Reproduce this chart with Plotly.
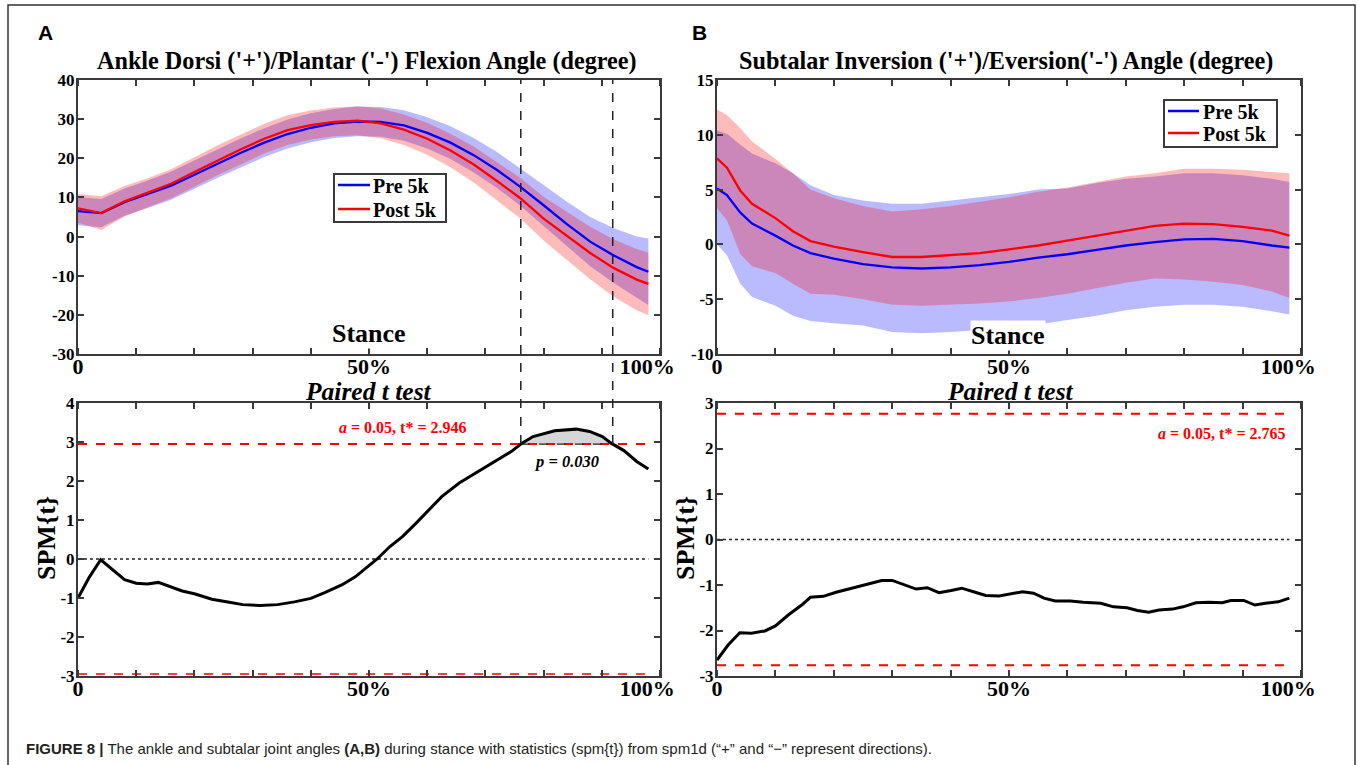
import numpy as np
import plotly.graph_objects as go

W, H = 1358, 765

# ---------------- data: panel A (ankle) ----------------
a_x = [0, 4, 8, 12, 16, 20, 24, 28, 32, 36, 40, 44, 48, 52, 56, 60, 64, 68, 72, 76, 80, 84, 88, 92, 96, 98]
a_pre_mean = [6.5, 6.0, 8.8, 10.8, 13.0, 15.8, 18.7, 21.4, 24.0, 26.2, 27.8, 28.9, 29.4, 29.3, 28.4, 26.5,
              24.0, 20.8, 17.0, 12.7, 8.0, 3.2, -1.3, -4.8, -7.8, -9.0]
a_post_mean = [7.2, 6.0, 9.0, 11.2, 13.5, 16.5, 19.5, 22.3, 25.0, 27.2, 28.5, 29.3, 29.6, 28.9, 27.3, 25.0,
               22.0, 18.4, 14.2, 9.8, 4.6, 0.2, -4.2, -8.0, -11.0, -12.1]
a_pre_sd = [3.6, 3.6, 3.5, 3.5, 3.6, 3.6, 3.7, 3.7, 3.7, 3.7, 3.7, 3.7, 3.8, 3.8, 3.9, 4.0,
            4.2, 4.4, 4.6, 4.8, 5.2, 5.7, 6.3, 7.0, 7.8, 8.5]
a_post_sd = [3.7, 4.3, 3.9, 3.7, 3.7, 3.8, 3.8, 3.8, 3.8, 3.8, 3.7, 3.7, 3.7, 3.8, 3.9, 4.1,
             4.3, 4.6, 4.9, 5.2, 5.6, 6.1, 6.7, 7.3, 7.8, 8.0]

spmA_x = [0, 2, 3.9, 6, 8, 10, 11.9, 13.8, 15.6, 17.9, 20, 23, 26, 28.3, 31.3, 34.3, 37.2, 40, 42.4, 45.4,
          47.7, 49.9, 51.4, 53.6, 55.8, 58.1, 60.3, 62.5, 65.5, 68.5, 71.5, 74.5, 76.2, 78.2, 81.9, 85.6,
          87.9, 90.1, 91.6, 93.8, 96, 98]
spmA_t = [-1.0, -0.45, -0.02, -0.28, -0.53, -0.62, -0.64, -0.60, -0.69, -0.82, -0.89, -1.03, -1.11, -1.17,
          -1.19, -1.17, -1.10, -1.01, -0.86, -0.66, -0.45, -0.19, 0.0, 0.32, 0.58, 0.92, 1.26, 1.60, 1.95,
          2.22, 2.48, 2.76, 2.96, 3.14, 3.29, 3.33, 3.27, 3.14, 2.97, 2.78, 2.50, 2.31]
tstarA = 2.946
pA = "0.030"

# ---------------- data: panel B (subtalar) ----------------
b_x = [0, 1.7, 4, 6, 10, 13, 16, 20, 25, 30, 35, 40, 45, 50, 55, 60, 65, 70, 75, 80, 85, 90, 95, 98]
b_pre_mean = [5.1, 4.5, 2.9, 1.9, 0.8, -0.1, -0.8, -1.3, -1.8, -2.1, -2.2, -2.1, -1.9, -1.6, -1.2, -0.9,
              -0.5, -0.1, 0.2, 0.45, 0.5, 0.3, -0.1, -0.3]
b_post_mean = [7.85, 7.0, 4.9, 3.7, 2.4, 1.2, 0.3, -0.2, -0.7, -1.15, -1.15, -1.0, -0.8, -0.45, -0.1, 0.35,
               0.8, 1.3, 1.7, 1.9, 1.85, 1.6, 1.25, 0.8]
b_pre_upper = [10.4, 10.1, 9.1, 8.3, 7.4, 6.5, 5.4, 4.5, 4.0, 3.7, 3.7, 4.0, 4.3, 4.6, 5.0, 5.1,
               5.6, 6.0, 6.2, 6.5, 6.5, 6.3, 6.0, 5.7]
b_pre_lower = [0.0, -1.0, -3.6, -4.8, -5.6, -6.5, -7.0, -7.2, -7.4, -8.0, -8.1, -8.0, -7.8, -7.5, -7.3, -6.9,
               -6.5, -6.0, -5.7, -5.5, -5.5, -5.7, -6.1, -6.4]
b_post_upper = [12.3, 11.8, 10.6, 9.4, 7.8, 6.5, 5.0, 4.2, 3.5, 3.0, 3.2, 3.5, 3.9, 4.3, 4.8, 5.2,
                5.7, 6.2, 6.5, 6.9, 6.9, 6.8, 6.6, 6.5]
b_post_lower = [3.3, 2.2, -0.9, -2.0, -2.6, -3.6, -4.5, -4.6, -5.0, -5.5, -5.6, -5.5, -5.4, -5.2, -4.9, -4.5,
                -4.0, -3.5, -3.1, -3.2, -3.4, -3.7, -4.3, -4.9]

spmB_x = [0, 1.9, 3.9, 5.9, 8.2, 10, 12.2, 14.5, 16, 18.2, 20.4, 22.6, 25.6, 28.2, 30, 32.3, 34.1, 36, 38,
          40.1, 41.9, 44.2, 46, 48.3, 50.1, 52.3, 54.2, 56, 57.9, 60.5, 62.7, 65.7, 67.9, 70.2, 72, 73.9,
          75.7, 78, 79.8, 82, 84.3, 86.5, 88, 90.2, 92.1, 93.9, 96.1, 98]
spmB_t = [-2.65, -2.32, -2.05, -2.06, -2.01, -1.90, -1.66, -1.44, -1.27, -1.25, -1.16, -1.09, -0.98, -0.90,
          -0.90, -1.00, -1.09, -1.06, -1.17, -1.12, -1.07, -1.16, -1.23, -1.24, -1.20, -1.15, -1.18, -1.29,
          -1.35, -1.35, -1.38, -1.40, -1.48, -1.50, -1.56, -1.60, -1.55, -1.53, -1.48, -1.39, -1.38, -1.39,
          -1.34, -1.34, -1.44, -1.40, -1.37, -1.29]
tstarB = 2.765

# tick marks and tick labels
x_tick_marks = [0, 10, 20, 30, 40, 50, 60, 70, 80, 90, 100]
x_label_vals = [0, 50, 97.8]
x_label_text = ["0", "50%", "100%"]
series_names = ["Pre 5k", "Post 5k"]

# ---------------- styling ----------------
SERIF = "Liberation Serif"
SANS = "Liberation Sans"
BLUE = "rgb(0,0,255)"
RED = "rgb(255,0,0)"
BLUE_F = "rgba(0,0,255,0.27)"
RED_F = "rgba(255,0,0,0.27)"
AX = "#3a3a3a"


def px(x):
    return x / W


def py(y):
    return 1 - y / H


# axes boxes in pixels (left, right, top, bottom)
boxes = {
    "1": (78, 660, 80, 354),
    "2": (78, 660, 403, 676),
    "3": (717, 1301, 80, 354),
    "4": (717, 1301, 403, 676),
}
yranges = {"1": [-30, 40], "2": [-3, 4], "3": [-10, 15], "4": [-3, 3]}
ydticks = {"1": 10, "2": 1, "3": 5, "4": 1}

fig = go.Figure()


def ax_names(k):
    return ("x" if k == "1" else "x" + k), ("y" if k == "1" else "y" + k)


def band(k, x, upper, lower, color):
    xr, yr = ax_names(k)
    fig.add_trace(go.Scatter(x=list(x) + list(x)[::-1], y=list(upper) + list(lower)[::-1],
                             fill="toself", fillcolor=color, line=dict(width=0), mode="lines",
                             xaxis=xr, yaxis=yr, showlegend=False, hoverinfo="skip"))


def line(k, x, y, color, width=2.3, dash=None, name=None):
    xr, yr = ax_names(k)
    fig.add_trace(go.Scatter(x=x, y=y, mode="lines", line=dict(color=color, width=width, dash=dash),
                             xaxis=xr, yaxis=yr, name=name, showlegend=False))


# ---- Panel A top ----
a_pre_up = np.array(a_pre_mean) + np.array(a_pre_sd)
a_pre_lo = np.array(a_pre_mean) - np.array(a_pre_sd)
a_post_up = np.array(a_post_mean) + np.array(a_post_sd)
a_post_lo = np.array(a_post_mean) - np.array(a_post_sd)
band("1", a_x, a_pre_up, a_pre_lo, BLUE_F)
band("1", a_x, a_post_up, a_post_lo, RED_F)
line("1", a_x, a_pre_mean, BLUE, name=series_names[0])
line("1", a_x, a_post_mean, RED, name=series_names[1])

# ---- Panel A bottom (SPM) ----
xend = spmA_x[-1]
sx = np.array(spmA_x)
st = np.array(spmA_t)
idx = np.where(st > tstarA)[0]
i0, i1 = idx[0], idx[-1]
c0 = sx[i0 - 1] + (tstarA - st[i0 - 1]) / (st[i0] - st[i0 - 1]) * (sx[i0] - sx[i0 - 1])
c1 = sx[i1] + (st[i1] - tstarA) / (st[i1] - st[i1 + 1]) * (sx[i1 + 1] - sx[i1])
cl_x = [c0] + list(sx[i0:i1 + 1]) + [c1]
cl_y = [tstarA] + list(st[i0:i1 + 1]) + [tstarA]
fig.add_trace(go.Scatter(x=cl_x + [c0], y=cl_y + [tstarA], fill="toself", fillcolor="#d6d6d6",
                         line=dict(width=0), mode="lines", xaxis="x2", yaxis="y2",
                         showlegend=False, hoverinfo="skip"))
line("2", [0, xend], [0, 0], "#222", width=1.6, dash="dot")
line("2", [0, xend], [tstarA, tstarA], RED, width=2, dash="dash")
line("2", [0, xend], [-tstarA, -tstarA], RED, width=1.5, dash="dash")
line("2", [c0, c1], [tstarA, tstarA], "#222", width=1.3, dash="dash")
line("2", spmA_x, spmA_t, "black", width=3)

# ---- Panel B top ----
band("3", b_x, b_pre_upper, b_pre_lower, BLUE_F)
band("3", b_x, b_post_upper, b_post_lower, RED_F)
line("3", b_x, b_pre_mean, BLUE, name=series_names[0])
line("3", b_x, b_post_mean, RED, name=series_names[1])

# ---- Panel B bottom ----
xendB = spmB_x[-1]
line("4", [0, xendB], [0, 0], "#222", width=1.6, dash="dot")
line("4", [0, xendB], [tstarB, tstarB], RED, width=2, dash="dash")
line("4", [0, xendB], [-tstarB, -tstarB], RED, width=2, dash="dash")
line("4", spmB_x, spmB_t, "black", width=3)

# ---- axes ----
layout = dict(width=W, height=H, margin=dict(l=0, r=0, t=0, b=0, autoexpand=False),
              plot_bgcolor="white", paper_bgcolor="white", showlegend=False)
for k, (l, r, t, b) in boxes.items():
    xr, yr = ax_names(k)
    xkey = "xaxis" if k == "1" else "xaxis" + k
    ykey = "yaxis" if k == "1" else "yaxis" + k
    common = dict(showline=True, linecolor=AX, linewidth=2, mirror="ticks", ticklen=6,
                  tickwidth=1.5, tickcolor=AX, showgrid=False, zeroline=False, fixedrange=True,
                  automargin=False)
    layout[xkey] = dict(common, domain=[px(l), px(r)], range=[0, 100], anchor=yr, ticks="",
                        tickvals=x_label_vals, ticktext=x_label_text, ticklabelstandoff=-8,
                        minor=dict(tickvals=x_tick_marks, ticks="inside", ticklen=6, tickwidth=1.5,
                                   tickcolor=AX, showgrid=False),
                        tickfont=dict(family=SERIF, size=22, color="black", weight="bold"))
    lo, hi = yranges[k]
    yv = list(range(lo, hi + 1, ydticks[k]))
    layout[ykey] = dict(common, domain=[py(b), py(t)], range=[lo, hi], anchor=xr, ticks="inside",
                        tickvals=yv, ticktext=[str(v) for v in yv], ticklabelstandoff=-2,
                        tickfont=dict(family=SERIF, size=17, color="black", weight="bold"))

fig.update_layout(**layout)

# ---- vertical dashed cluster bounds spanning top and bottom of panel A ----
lA, rA, tA, bA = boxes["2"]
y_thr_pix = tA + (4 - tstarA) / 7 * (bA - tA)
for cx in [c0, c1]:
    fig.add_shape(type="line", xref="x", yref="paper", x0=cx, x1=cx, y0=py(y_thr_pix), y1=py(80),
                  line=dict(color="#222", width=1.5, dash="dash"))

# outer frame
fig.add_shape(type="rect", xref="paper", yref="paper", x0=px(8), x1=px(1355), y0=-0.02, y1=py(5),
              line=dict(color="#333", width=1.5), fillcolor="rgba(0,0,0,0)", layer="below")


def ann(text, x, y, size, family=SERIF, color="black", bold=True, italic=False, xanchor="center",
        angle=0, bg=None):
    fig.add_annotation(text=text, x=px(x), y=py(y), xref="paper", yref="paper", showarrow=False,
                       xanchor=xanchor, yanchor="middle", textangle=angle,
                       bgcolor=bg, borderpad=0,
                       font=dict(family=family, size=size, color=color,
                                 weight="bold" if bold else "normal",
                                 style="italic" if italic else "normal"))


# ---- legends (box, line samples, labels) ----
def legend_box(x0, y0, x1, y1, line_x0, line_x1, text_x, rows):
    fig.add_shape(type="rect", xref="paper", yref="paper", x0=px(x0), x1=px(x1), y0=py(y1), y1=py(y0),
                  line=dict(color=AX, width=2), fillcolor="white", layer="above")
    for (yy, color, name) in rows:
        fig.add_shape(type="line", xref="paper", yref="paper", x0=px(line_x0), x1=px(line_x1),
                      y0=py(yy), y1=py(yy), line=dict(color=color, width=2.5), layer="above")
        ann(name, text_x, yy + 1, 20, xanchor="left")


legend_box(334, 174, 446, 222, 338, 370, 372, [(185, BLUE, series_names[0]), (209, RED, series_names[1])])
legend_box(1164, 100, 1277, 147, 1168, 1199, 1202, [(111, BLUE, series_names[0]), (133, RED, series_names[1])])

ann("A", 45, 33, 21, family=SANS)
ann("B", 700, 33, 21, family=SANS)
ann("Ankle Dorsi ('+')/Plantar ('-') Flexion Angle (degree)", 367, 61, 24.2)
ann("Subtalar Inversion ('+')/Eversion('-') Angle (degree)", 1006, 61, 24.2)
ann("Stance", 369, 333, 26, bg="white")
ann("Stance", 1008, 335, 26, bg="white")
ann("Paired t test", 369, 392, 25.5, italic=True)
ann("Paired t test", 1010, 392, 25.5, italic=True)
ann("SPM{t}", 46, 538, 26, angle=-90)
ann("SPM{t}", 685, 538, 26, angle=-90)
ann("<i>a</i> = 0.05, t* = %.3f" % tstarA, 403, 427, 16, color=RED)
ann("<i>a</i> = 0.05, t* = %.3f" % tstarB, 1287, 433, 16, color=RED, xanchor="right")
ann("p = " + pA, 566, 461, 16.5, italic=True)
ann("<b>FIGURE 8 |</b> The ankle and subtalar joint angles <b>(A,B)</b> during stance with statistics "
    "(spm{t}) from spm1d (\u201c+\u201d and \u201c\u2212\u201d represent directions).",
    25, 748, 15, family=SANS, color="#231f20", bold=False, xanchor="left")

fig.write_html("out.html", config={"displayModeBar": False},
               post_script="document.body.style.margin='0px';document.body.style.overflow='hidden';")
